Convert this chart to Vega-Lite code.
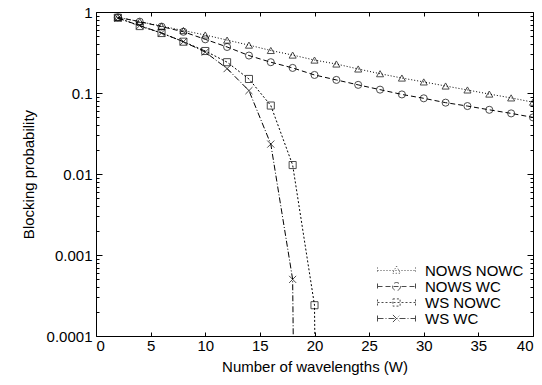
{
  "$schema": "https://vega.github.io/schema/vega-lite/v6.json",
  "width": 437,
  "height": 324,
  "autosize": {"type": "none"},
  "padding": {"left": 96, "top": 12, "right": 9, "bottom": 49},
  "background": "white",
  "config": {
    "font": "Liberation Sans",
    "view": {"stroke": "black", "strokeWidth": 1},
    "axis": {
      "labelFont": "Liberation Sans", "titleFont": "Liberation Sans",
      "labelFontSize": 15, "titleFontSize": 15, "titleFontWeight": "normal",
      "labelColor": "black", "titleColor": "black", "tickColor": "black",
      "domain": false, "grid": false
    }
  },
  "data": {
    "values": [
      {"series": "NOWS NOWC", "W": 2, "P": 0.86},
      {"series": "NOWS NOWC", "W": 4, "P": 0.76},
      {"series": "NOWS NOWC", "W": 6, "P": 0.67},
      {"series": "NOWS NOWC", "W": 8, "P": 0.59},
      {"series": "NOWS NOWC", "W": 10, "P": 0.52},
      {"series": "NOWS NOWC", "W": 12, "P": 0.45},
      {"series": "NOWS NOWC", "W": 14, "P": 0.39},
      {"series": "NOWS NOWC", "W": 16, "P": 0.335},
      {"series": "NOWS NOWC", "W": 18, "P": 0.294},
      {"series": "NOWS NOWC", "W": 20, "P": 0.255},
      {"series": "NOWS NOWC", "W": 22, "P": 0.228},
      {"series": "NOWS NOWC", "W": 24, "P": 0.198},
      {"series": "NOWS NOWC", "W": 26, "P": 0.173},
      {"series": "NOWS NOWC", "W": 28, "P": 0.153},
      {"series": "NOWS NOWC", "W": 30, "P": 0.137},
      {"series": "NOWS NOWC", "W": 32, "P": 0.122},
      {"series": "NOWS NOWC", "W": 34, "P": 0.109},
      {"series": "NOWS NOWC", "W": 36, "P": 0.097},
      {"series": "NOWS NOWC", "W": 38, "P": 0.087},
      {"series": "NOWS NOWC", "W": 40, "P": 0.077},
      {"series": "NOWS WC", "W": 2, "P": 0.86},
      {"series": "NOWS WC", "W": 4, "P": 0.76},
      {"series": "NOWS WC", "W": 6, "P": 0.66},
      {"series": "NOWS WC", "W": 8, "P": 0.57},
      {"series": "NOWS WC", "W": 10, "P": 0.46},
      {"series": "NOWS WC", "W": 12, "P": 0.37},
      {"series": "NOWS WC", "W": 14, "P": 0.29},
      {"series": "NOWS WC", "W": 16, "P": 0.24},
      {"series": "NOWS WC", "W": 18, "P": 0.204},
      {"series": "NOWS WC", "W": 20, "P": 0.167},
      {"series": "NOWS WC", "W": 22, "P": 0.145},
      {"series": "NOWS WC", "W": 24, "P": 0.126},
      {"series": "NOWS WC", "W": 26, "P": 0.11},
      {"series": "NOWS WC", "W": 28, "P": 0.096},
      {"series": "NOWS WC", "W": 30, "P": 0.086},
      {"series": "NOWS WC", "W": 32, "P": 0.076},
      {"series": "NOWS WC", "W": 34, "P": 0.069},
      {"series": "NOWS WC", "W": 36, "P": 0.062},
      {"series": "NOWS WC", "W": 38, "P": 0.056},
      {"series": "NOWS WC", "W": 40, "P": 0.05},
      {"series": "WS NOWC", "W": 2, "P": 0.85},
      {"series": "WS NOWC", "W": 4, "P": 0.67},
      {"series": "WS NOWC", "W": 6, "P": 0.55},
      {"series": "WS NOWC", "W": 8, "P": 0.43},
      {"series": "WS NOWC", "W": 10, "P": 0.33},
      {"series": "WS NOWC", "W": 12, "P": 0.24},
      {"series": "WS NOWC", "W": 14, "P": 0.149},
      {"series": "WS NOWC", "W": 16, "P": 0.07},
      {"series": "WS NOWC", "W": 18, "P": 0.0129},
      {"series": "WS NOWC", "W": 20, "P": 0.00024},
      {"series": "WS NOWC", "W": 22, "P": 1e-30},
      {"series": "WS WC", "W": 2, "P": 0.84},
      {"series": "WS WC", "W": 4, "P": 0.68},
      {"series": "WS WC", "W": 6, "P": 0.55},
      {"series": "WS WC", "W": 8, "P": 0.43},
      {"series": "WS WC", "W": 10, "P": 0.32},
      {"series": "WS WC", "W": 12, "P": 0.2},
      {"series": "WS WC", "W": 14, "P": 0.107},
      {"series": "WS WC", "W": 16, "P": 0.0234},
      {"series": "WS WC", "W": 18, "P": 0.0005},
      {"series": "WS WC", "W": 20, "P": 1e-30}
    ]
  },
  "layer": [
    {
      "mark": {"type": "line", "clip": true, "strokeWidth": 1, "color": "black"},
      "encoding": {
        "x": {
          "field": "W", "type": "quantitative",
          "scale": {"domain": [0, 40]},
          "axis": {
            "orient": "bottom", "values": [0, 5, 10, 15, 20, 25, 30, 35, 40],
            "tickSize": -4, "labelPadding": 6, "titlePadding": 6,
            "title": "Number of wavelengths (W)"
          }
        },
        "y": {
          "field": "P", "type": "quantitative",
          "scale": {"type": "log", "domain": [0.0001, 1]},
          "axis": {
            "orient": "left",
            "values": [0.0001, 0.0002, 0.0003, 0.0004, 0.0005, 0.0006, 0.0007, 0.0008, 0.0009, 0.001, 0.002, 0.003, 0.004, 0.005, 0.006, 0.007, 0.008, 0.009, 0.01, 0.02, 0.03, 0.04, 0.05, 0.06, 0.07, 0.08, 0.09, 0.1, 0.2, 0.3, 0.4, 0.5, 0.6, 0.7, 0.8, 0.9, 1],
            "labelExpr": "datum.value==1?'1':datum.value==0.1?'0.1':datum.value==0.01?'0.01':datum.value==0.001?'0.001':datum.value==0.0001?'0.0001':''",
            "tickSize": {"condition": {"test": "datum.value==1||datum.value==0.1||datum.value==0.01||datum.value==0.001||datum.value==0.0001", "value": -6}, "value": -3},
            "labelPadding": 10, "titlePadding": 10, "labelOverlap": false,
            "title": "Blocking probability"
          }
        },
        "strokeDash": {
          "field": "series", "type": "nominal",
          "scale": {"range": [[1, 2], [5, 3], [2, 2], [6, 2, 1, 2]]},
          "legend": null
        }
      }
    },
    {
      "mark": {"type": "point", "clip": true, "filled": false, "color": "black", "size": 50, "strokeWidth": 1},
      "encoding": {
        "x": {
          "field": "W", "type": "quantitative",
          "axis": {
            "orient": "top", "values": [0, 5, 10, 15, 20, 25, 30, 35, 40],
            "tickSize": -4, "labels": false, "title": null
          }
        },
        "y": {
          "field": "P", "type": "quantitative",
          "axis": {
            "orient": "right",
            "values": [0.0001, 0.0002, 0.0003, 0.0004, 0.0005, 0.0006, 0.0007, 0.0008, 0.0009, 0.001, 0.002, 0.003, 0.004, 0.005, 0.006, 0.007, 0.008, 0.009, 0.01, 0.02, 0.03, 0.04, 0.05, 0.06, 0.07, 0.08, 0.09, 0.1, 0.2, 0.3, 0.4, 0.5, 0.6, 0.7, 0.8, 0.9, 1],
            "tickSize": {"condition": {"test": "datum.value==1||datum.value==0.1||datum.value==0.01||datum.value==0.001||datum.value==0.0001", "value": -6}, "value": -3},
            "labels": false, "title": null
          }
        },
        "shape": {
          "field": "series", "type": "nominal",
          "scale": {"domain": ["NOWS NOWC", "NOWS WC", "WS NOWC", "WS WC"], "range": ["triangle-up", "circle", "square", "M-1,-1L1,1M-1,1L1,-1"]},
          "legend": null
        }
      }
    },
    {
      "mark": {"type": "point", "clip": true, "filled": false, "color": "black", "size": 0, "strokeWidth": 1},
      "encoding": {
        "x": {"field": "W", "type": "quantitative", "axis": null},
        "y": {"field": "P", "type": "quantitative", "axis": null},
        "shape": {
          "field": "series", "type": "nominal",
          "scale": {
            "domain": ["NOWS NOWC", "NOWS WC", "WS NOWC", "WS WC"],
            "range": [
              "M-4.75,0H4.75M-4.75,-0.75V0.75M4.75,-0.75V0.75M0,-1.1L1,0.7H-1Z",
              "M-4.75,0H4.75M-4.75,-0.75V0.75M4.75,-0.75V0.75M1,0A1,1,0,1,1,-1,0A1,1,0,1,1,1,0",
              "M-4.75,0H4.75M-4.75,-0.75V0.75M4.75,-0.75V0.75M-0.9,-0.9H0.9V0.9H-0.9Z",
              "M-4.75,0H4.75M-4.75,-0.75V0.75M4.75,-0.75V0.75M-0.9,-0.9L0.9,0.9M-0.9,0.9L0.9,-0.9"
            ]
          },
          "legend": {
            "orient": "bottom-right", "offset": 9,
            "title": null, "padding": 0, "symbolSize": 64,
            "labelOffset": 21, "rowPadding": -2,
            "labelFont": "Liberation Sans", "labelFontSize": 15, "labelColor": "black",
            "symbolStrokeColor": "black", "symbolStrokeWidth": 1
          }
        },
        "strokeDash": {
          "field": "series", "type": "nominal",
          "scale": {"domain": ["NOWS NOWC", "NOWS WC", "WS NOWC", "WS WC"], "range": [[1, 2], [5, 3], [2, 2], [6, 2, 1, 2]]},
          "legend": {
            "orient": "bottom-right", "offset": 9,
            "title": null, "padding": 0, "symbolSize": 64,
            "labelOffset": 21, "rowPadding": -2,
            "labelFont": "Liberation Sans", "labelFontSize": 15, "labelColor": "black",
            "symbolStrokeColor": "black", "symbolStrokeWidth": 1
          }
        }
      }
    }
  ],
  "resolve": {
    "axis": {"x": "independent", "y": "independent"},
    "scale": {"shape": "independent", "strokeDash": "independent"}
  }
}
